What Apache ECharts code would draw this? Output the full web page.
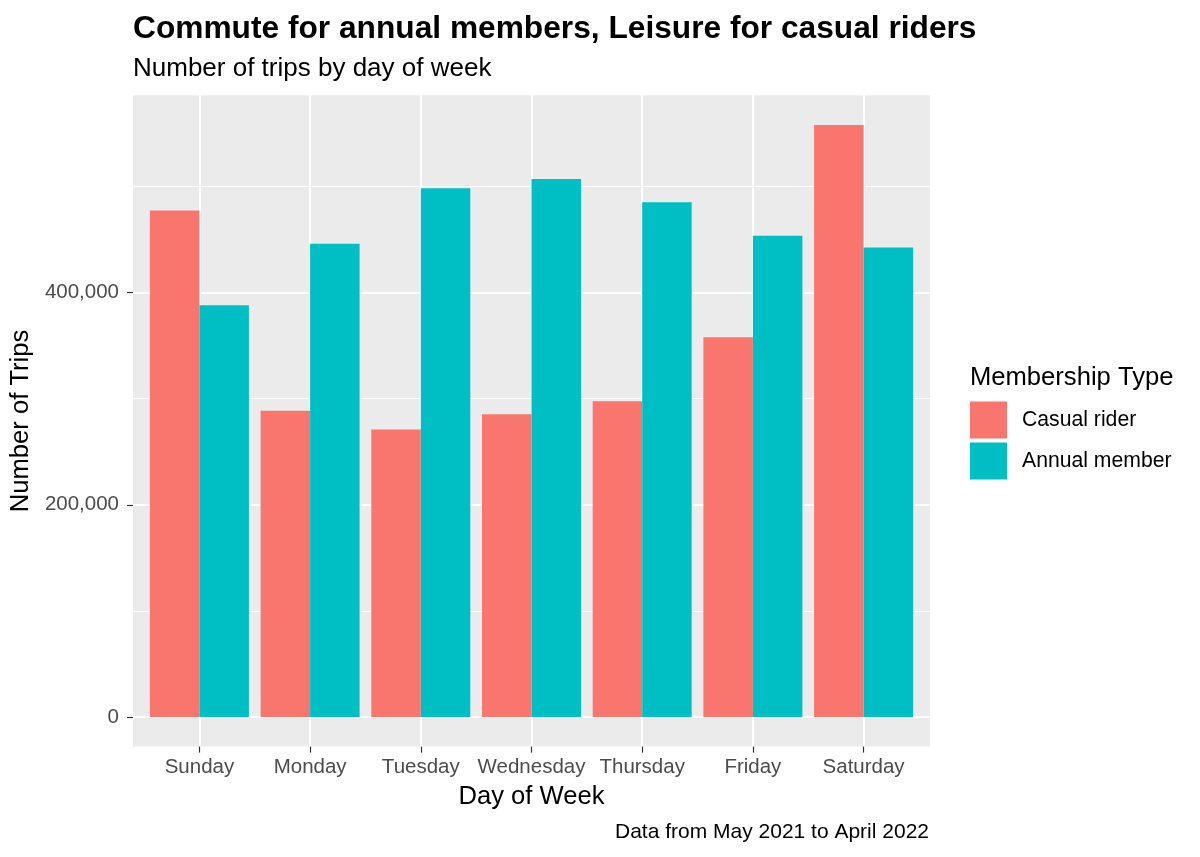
<!DOCTYPE html>
<html>
<head>
<meta charset="utf-8">
<script src="https://cdn.jsdelivr.net/npm/echarts@6/dist/echarts.min.js"></script>
<style>
html, body { margin: 0; padding: 0; background: #fff; }
#main { width: 1200px; height: 857px; }
</style>
</head>
<body>
<div id="main"></div>
<script>
// days of week (x positions 0..6)
var days = ['Sunday', 'Monday', 'Tuesday', 'Wednesday', 'Thursday', 'Friday', 'Saturday'];
// trips per day
var casualTrips = [477400, 288600, 271000, 285400, 297700, 357900, 558100];
var memberTrips = [388000, 446100, 498500, 507000, 485300, 453600, 442600];
var seriesNames = ['Casual rider', 'Annual member'];
var yMajorTicks = [0, 200000, 400000];
var yMinorTicks = [100000, 300000, 500000];
var dayIdx = [0, 1, 2, 3, 4, 5, 6];

var font = 'Liberation Sans';

// ggplot style padding round the data
var yMax = 558100 * 1.05;
var yMin = -558100 * 0.05;

function toPairs(vals) {
	var out = [];
	for (var i = 0; i < vals.length; i++) {
		out.push([i, vals[i]]);
	}
	return out;
}

function thousands(v) {
	return String(v).replace(/\B(?=(\d{3})+(?!\d))/g, ',');
}

var option = {
	animation: false,
	backgroundColor: '#ffffff',
	textStyle: { fontFamily: font },
	title: [{
		text: 'Commute for annual members, Leisure for casual riders',
		left: 133, top: 13, padding: 0,
		textStyle: { fontFamily: font, fontSize: 31.7, fontWeight: 'bold', color: '#000000' }
	}, {
		text: 'Number of trips by day of week',
		left: 133, top: 56, padding: 0,
		textStyle: { fontFamily: font, fontSize: 26, fontWeight: 'normal', color: '#000000' }
	}, {
		text: 'Membership Type',
		left: 970, top: 365, padding: 0,
		textStyle: { fontFamily: font, fontSize: 25.6, fontWeight: 'normal', color: '#000000' }
	}, {
		text: 'Data from May 2021 to April 2022',
		right: 271, top: 822, padding: 0,
		textStyle: { fontFamily: font, fontSize: 21, fontWeight: 'normal', color: '#000000' }
	}],
	legend: {
		data: seriesNames,
		orient: 'vertical',
		left: 970, top: 401.5,
		padding: 0,
		itemWidth: 37, itemHeight: 37, itemGap: 4,
		icon: 'rect',
		textStyle: { fontFamily: font, fontSize: 21.2, color: '#000000', padding: [0, 0, 0, 10] }
	},
	grid: {
		left: 133, right: 270, top: 95.3, bottom: 110.4,
		show: true, backgroundColor: '#EBEBEB', borderWidth: 0,
		containLabel: false
	},
	xAxis: {
		type: 'value',
		min: -0.6, max: 6.6,
		name: 'Day of Week',
		nameLocation: 'middle',
		nameGap: 37,
		nameTextStyle: { fontFamily: font, fontSize: 25.6, color: '#000000' },
		axisLine: { show: false, onZero: false },
		axisTick: { show: true, length: 6, customValues: dayIdx, lineStyle: { color: '#333333', width: 1.2 } },
		axisLabel: {
			customValues: dayIdx,
			margin: 10,
			fontFamily: font, fontSize: 20.5, color: '#4D4D4D',
			formatter: function (v) { return days[Math.round(v)]; }
		},
		splitLine: { show: true, lineStyle: { color: '#ffffff', width: 2 } }
	},
	yAxis: [{
		type: 'value',
		min: yMin, max: yMax,
		name: 'Number of Trips',
		nameLocation: 'middle',
		nameGap: 94,
		nameTextStyle: { fontFamily: font, fontSize: 25.6, color: '#000000' },
		axisLine: { show: false, onZero: false },
		axisTick: { show: true, length: 6, customValues: yMajorTicks, lineStyle: { color: '#333333', width: 1.2 } },
		axisLabel: {
			customValues: yMajorTicks,
			margin: 14,
			fontFamily: font, fontSize: 20.5, color: '#4D4D4D',
			formatter: function (v) { return thousands(v); }
		},
		splitLine: { show: true, lineStyle: { color: '#ffffff', width: 2 } },
		z: 3
	}, {
		type: 'value',
		position: 'left',
		min: yMin, max: yMax,
		axisLine: { show: false, onZero: false },
		axisTick: { show: false, customValues: yMinorTicks },
		axisLabel: { show: false, customValues: yMinorTicks },
		splitLine: { show: true, lineStyle: { color: '#ffffff', width: 1 } }
	}],
	series: [{
		name: seriesNames[0],
		type: 'bar',
		data: toPairs(casualTrips),
		barWidth: 49.5,
		barGap: '0%',
		itemStyle: { color: '#F8766D' },
		z: 5
	}, {
		name: seriesNames[1],
		type: 'bar',
		data: toPairs(memberTrips),
		barWidth: 49.5,
		barGap: '0%',
		itemStyle: { color: '#00BFC4' },
		z: 5
	}]
};

var myChart = echarts.init(document.getElementById('main'));
myChart.setOption(option);
</script>
</body>
</html>
